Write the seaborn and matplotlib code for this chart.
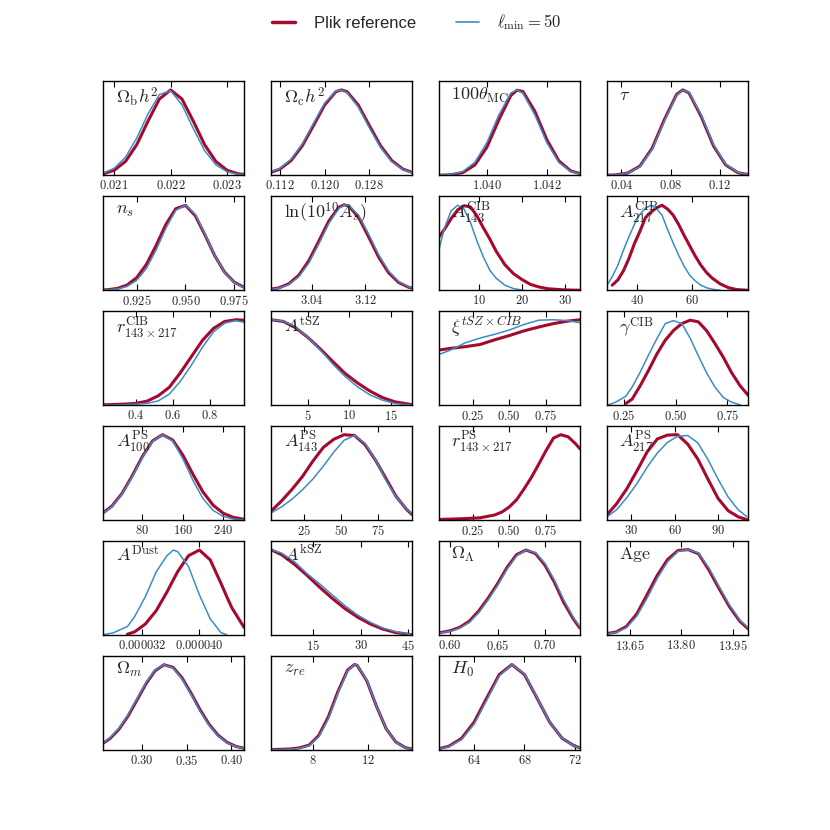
import numpy as np
import matplotlib
matplotlib.use("Agg")
import matplotlib.pyplot as plt
import seaborn as sns
from matplotlib.lines import Line2D

nan = np.nan

# 1D marginals, peak normalised to 1
ombh2_x = [0.0208, 0.0210, 0.0212, 0.0214, 0.0216, 0.0218, 0.0220, 0.0222, 0.0224, 0.0226, 0.0228, 0.0230, 0.0232, 0.0234]
ombh2_plik = [0.017, 0.059, 0.163, 0.360, 0.636, 0.893, 1.0, 0.893, 0.636, 0.360, 0.163, 0.059, 0.017, 0.004]
ombh2_l50 = [0.025, 0.082, 0.212, 0.437, 0.720, 0.946, 0.990, 0.826, 0.549, 0.291, 0.123, 0.041, 0.011, 0.002]
ombh2_ticks = ["0.021", "0.022", "0.023"]

omch2_x = [0.110, 0.112, 0.114, 0.116, 0.118, 0.120, 0.122, 0.123, 0.124, 0.126, 0.128, 0.130, 0.132, 0.134, 0.136]
omch2_plik = [0.026, 0.072, 0.172, 0.345, 0.581, 0.823, 0.979, 1.0, 0.979, 0.823, 0.581, 0.345, 0.172, 0.072, 0.026]
omch2_l50 = [0.029, 0.080, 0.186, 0.366, 0.607, 0.844, 0.986, 0.999, 0.969, 0.801, 0.556, 0.325, 0.159, 0.066, 0.023]
omch2_ticks = ["0.112", "0.120", "0.128"]

theta_x = [1.0384, 1.0388, 1.0392, 1.0396, 1.0400, 1.0404, 1.0408, 1.0410, 1.0412, 1.0416, 1.0420, 1.0424, 1.0428, 1.0432]
theta_plik = [0.001, 0.006, 0.032, 0.121, 0.328, 0.649, 0.935, 0.996, 0.981, 0.749, 0.416, 0.168, 0.050, 0.011]
theta_l50 = [0.002, 0.009, 0.044, 0.151, 0.381, 0.707, 0.962, 1.0, 0.962, 0.707, 0.381, 0.151, 0.044, 0.009]
theta_ticks = ["1.040", "1.042"]

tau_x = [0.025, 0.035, 0.045, 0.055, 0.065, 0.075, 0.085, 0.090, 0.095, 0.105, 0.115, 0.125, 0.135, 0.145]
tau_plik = [0.0005, 0.004, 0.026, 0.107, 0.316, 0.653, 0.948, 1.0, 0.965, 0.689, 0.345, 0.121, 0.030, 0.005]
tau_l50 = [0.0004, 0.004, 0.024, 0.101, 0.302, 0.636, 0.938, 0.998, 0.972, 0.707, 0.360, 0.129, 0.032, 0.006]
tau_ticks = ["0.04", "0.08", "0.12"]

ns_x = [0.905, 0.910, 0.915, 0.920, 0.925, 0.930, 0.935, 0.940, 0.945, 0.950, 0.955, 0.960, 0.965, 0.970, 0.975, 0.980]
ns_plik = [0.0015, 0.006, 0.021, 0.060, 0.147, 0.303, 0.527, 0.772, 0.954, 0.994, 0.873, 0.647, 0.404, 0.212, 0.094, 0.035]
ns_l50 = [0.001, 0.004, 0.014, 0.044, 0.116, 0.256, 0.474, 0.729, 0.935, 0.998, 0.888, 0.658, 0.406, 0.209, 0.090, 0.032]
ns_ticks = ["0.925", "0.950", "0.975"]

logA_x = [2.975, 2.990, 3.005, 3.020, 3.035, 3.050, 3.065, 3.080, 3.088, 3.095, 3.110, 3.125, 3.140, 3.155, 3.170, 3.185, 3.200]
logA_plik = [0.009, 0.028, 0.076, 0.176, 0.345, 0.574, 0.810, 0.971, 1.0, 0.987, 0.851, 0.623, 0.387, 0.204, 0.091, 0.035, 0.011]
logA_l50 = [0.007, 0.024, 0.067, 0.159, 0.318, 0.541, 0.781, 0.957, 0.997, 0.994, 0.876, 0.656, 0.416, 0.224, 0.102, 0.040, 0.013]
logA_ticks = ["3.04", "3.12"]

acib143_x = [0.6, 2, 3.5, 5, 6.5, 8, 9.5, 11, 12.5, 14, 16, 18, 20, 22, 24, 26, 30, 33.5]
acib143_plik = [0.62, 0.72, 0.84, 0.94, 0.99, 0.975, 0.87, 0.73, 0.60, 0.455, 0.30, 0.195, 0.125, 0.068, 0.038, 0.018, 0.004, 0.0]
acib143_l50 = [0.47, 0.74, 0.93, 0.995, 0.95, 0.79, 0.575, 0.39, 0.234, 0.14, 0.06, 0.02, 0.003, nan, nan, nan, nan, nan]
acib143_ticks = ["10", "20", "30"]

acib217_x = [29.5, 31, 33, 35, 37, 39, 41, 43, 45, 47, 49, 51, 53, 55, 57, 59, 61, 63, 65, 67, 70, 73, 76, 80]
acib217_plik = [nan, 0.06, 0.12, 0.225, 0.37, 0.545, 0.69, 0.85, 0.915, 0.965, 0.995, 0.95, 0.88, 0.77, 0.64, 0.52,
                0.40, 0.295, 0.21, 0.145, 0.075, 0.03, 0.008, 0.0]
acib217_l50 = [0.078, 0.16, 0.29, 0.465, 0.625, 0.77, 0.89, 0.96, 0.995, 0.955, 0.88, 0.71, 0.555, 0.41, 0.28, 0.175,
               0.11, 0.06, 0.03, 0.013, 0.0, nan, nan, nan]
acib217_ticks = ["40", "60"]

rcib_x = [0.22, 0.28, 0.34, 0.40, 0.46, 0.52, 0.58, 0.64, 0.70, 0.76, 0.82, 0.88, 0.94, 0.985]
rcib_plik = [0.005, 0.008, 0.013, 0.022, 0.048, 0.11, 0.21, 0.38, 0.57, 0.76, 0.90, 0.98, 1.0, 0.995]
rcib_l50 = [0.0, 0.002, 0.006, 0.012, 0.022, 0.05, 0.13, 0.28, 0.47, 0.68, 0.86, 0.96, 0.99, 0.97]
rcib_ticks = ["0.4", "0.6", "0.8"]

atsz_x = [0.5, 2, 3.5, 5, 6.5, 8, 9.5, 11, 12.5, 14, 15.5, 17.6]
atsz_plik = [1.0, 0.98, 0.905, 0.79, 0.655, 0.51, 0.37, 0.26, 0.165, 0.09, 0.04, 0.006]
atsz_l50 = [1.0, 0.985, 0.915, 0.79, 0.645, 0.48, 0.335, 0.215, 0.12, 0.06, 0.02, 0.0]
atsz_ticks = ["5", "10", "15"]

xi_x = [0.02, 0.1, 0.2, 0.3, 0.4, 0.5, 0.6, 0.7, 0.8, 0.9, 0.98]
xi_plik = [0.645, 0.665, 0.685, 0.71, 0.765, 0.815, 0.87, 0.915, 0.955, 0.985, 1.0]
xi_l50 = [0.593, 0.645, 0.73, 0.785, 0.83, 0.88, 0.945, 0.995, 1.0, 0.99, 0.965]
xi_ticks = ["0.25", "0.50", "0.75"]

gamma_x = [0.17, 0.21, 0.26, 0.29, 0.33, 0.37, 0.41, 0.45, 0.49, 0.53, 0.57, 0.61, 0.65, 0.69, 0.73, 0.77, 0.81, 0.85]
gamma_plik = [nan, nan, 0.02, 0.07, 0.23, 0.41, 0.60, 0.76, 0.875, 0.955, 0.995, 0.975, 0.87, 0.72, 0.56, 0.38, 0.23, 0.115]
gamma_l50 = [0.0, 0.033, 0.105, 0.21, 0.39, 0.59, 0.78, 0.955, 0.99, 0.955, 0.785, 0.575, 0.375, 0.21, 0.09, 0.035, 0.005, nan]
gamma_ticks = ["0.25", "0.50", "0.75"]

aps100_x = [0, 20, 40, 60, 80, 100, 120, 140, 160, 180, 200, 220, 240, 260, 280]
aps100_plik = [0.074, 0.163, 0.311, 0.516, 0.741, 0.925, 1.0, 0.938, 0.763, 0.538, 0.329, 0.175, 0.080, 0.032, 0.011]
aps100_l50 = [0.071, 0.157, 0.302, 0.505, 0.730, 0.918, 0.999, 0.929, 0.721, 0.467, 0.252, 0.114, 0.043, 0.013, 0.004]
aps100_ticks = ["80", "160", "240"]

aps143_x = [3, 10, 17, 24, 31, 38, 45, 52, 59, 66, 73, 80, 87, 94, 97.6]
aps143_plik = [0.105, 0.225, 0.36, 0.51, 0.69, 0.85, 0.945, 1.0, 0.99, 0.885, 0.705, 0.49, 0.275, 0.125, 0.065]
aps143_l50 = [0.085, 0.155, 0.245, 0.355, 0.48, 0.63, 0.795, 0.935, 0.99, 0.9, 0.71, 0.47, 0.27, 0.13, 0.072]
aps143_ticks = ["25", "50", "75"]

rps_x = [0.02, 0.1, 0.2, 0.3, 0.4, 0.45, 0.5, 0.55, 0.6, 0.65, 0.7, 0.75, 0.8, 0.85, 0.9, 0.95, 0.98]
rps_plik = [0.008, 0.012, 0.018, 0.027, 0.06, 0.095, 0.155, 0.24, 0.365, 0.50, 0.655, 0.815, 0.96, 1.0, 0.975, 0.895, 0.835]
rps_ticks = ["0.25", "0.50", "0.75"]

aps217_x = [13, 20, 27, 34, 41, 48, 55, 62, 69, 76, 83, 90, 97, 104, 110]
aps217_plik = [0.058, 0.195, 0.37, 0.58, 0.80, 0.95, 0.995, 1.0, 0.89, 0.715, 0.48, 0.255, 0.11, 0.038, 0.006]
aps217_l50 = [0.035, 0.125, 0.265, 0.43, 0.62, 0.785, 0.91, 0.98, 0.99, 0.905, 0.71, 0.48, 0.27, 0.12, 0.04]
aps217_ticks = ["30", "60", "90"]

dust_x = [2.66e-5, 2.8e-5, 3.0e-5, 3.1e-5, 3.25e-5, 3.4e-5, 3.55e-5, 3.64e-5, 3.7e-5, 3.85e-5, 4.0e-5, 4.15e-5,
          4.3e-5, 4.38e-5, 4.45e-5, 4.62e-5]
dust_plik = [nan, nan, 0.01, 0.037, 0.13, 0.285, 0.505, 0.65, 0.745, 0.93, 0.995, 0.88, 0.605, 0.45, 0.32, 0.09]
dust_l50 = [0.004, 0.025, 0.10, 0.215, 0.45, 0.74, 0.93, 0.995, 0.975, 0.80, 0.47, 0.19, 0.028, 0.004, nan, nan]
dust_ticks = ["0.000032", "0.000040"]

aksz_x = [1.6, 5, 9, 13, 17, 21, 25, 29, 33, 37, 41, 46.2]
aksz_plik = [1.0, 0.94, 0.83, 0.70, 0.56, 0.43, 0.31, 0.21, 0.13, 0.07, 0.03, 0.004]
aksz_l50 = [1.0, 0.96, 0.86, 0.72, 0.60, 0.47, 0.345, 0.235, 0.15, 0.083, 0.04, 0.004]
aksz_ticks = ["15", "30", "45"]

omL_x = [0.588, 0.60, 0.61, 0.62, 0.63, 0.64, 0.65, 0.66, 0.67, 0.68, 0.69, 0.70, 0.71, 0.72, 0.73, 0.737]
omL_plik = [0.025, 0.05, 0.09, 0.16, 0.28, 0.43, 0.60, 0.79, 0.94, 0.995, 0.955, 0.82, 0.62, 0.38, 0.19, 0.08]
omL_l50 = [0.022, 0.044, 0.08, 0.145, 0.26, 0.41, 0.58, 0.77, 0.925, 0.995, 0.965, 0.84, 0.645, 0.41, 0.21, 0.095]
omL_ticks = ["0.60", "0.65", "0.70"]

age_x = [13.58, 13.61, 13.64, 13.67, 13.70, 13.73, 13.76, 13.79, 13.82, 13.85, 13.88, 13.91, 13.94, 13.97, 13.995]
age_plik = [0.015, 0.035, 0.10, 0.245, 0.47, 0.70, 0.885, 0.99, 1.0, 0.95, 0.76, 0.54, 0.33, 0.16, 0.07]
age_l50 = [0.012, 0.03, 0.085, 0.22, 0.43, 0.665, 0.86, 0.98, 1.0, 0.96, 0.785, 0.565, 0.35, 0.175, 0.08]
age_ticks = ["13.65", "13.80", "13.95"]

omm_x = [0.257, 0.265, 0.275, 0.285, 0.295, 0.305, 0.315, 0.325, 0.335, 0.345, 0.355, 0.365, 0.375, 0.385, 0.395,
         0.405, 0.414]
omm_plik = [0.078, 0.135, 0.245, 0.399, 0.587, 0.777, 0.928, 0.998, 0.967, 0.845, 0.665, 0.472, 0.302, 0.174, 0.090,
            0.042, 0.020]
omm_l50 = [0.083, 0.143, 0.256, 0.414, 0.603, 0.791, 0.937, 0.999, 0.960, 0.832, 0.650, 0.457, 0.290, 0.165, 0.085,
           0.040, 0.018]
omm_ticks = ["0.30", "0.35", "0.40"]

zre_x = [4.9, 5.6, 6.3, 7.0, 7.7, 8.4, 9.1, 9.8, 10.5, 11.0, 11.2, 11.9, 12.6, 13.3, 14.0, 14.7, 15.2]
zre_plik = [0.004, 0.008, 0.012, 0.025, 0.057, 0.169, 0.388, 0.685, 0.936, 1.0, 0.990, 0.808, 0.511, 0.249, 0.094,
            0.028, 0.010]
zre_l50 = [0.002, 0.005, 0.009, 0.02, 0.050, 0.154, 0.365, 0.664, 0.927, 1.0, 0.992, 0.815, 0.514, 0.248, 0.092,
           0.026, 0.009]
zre_ticks = ["8", "12"]

h0_x = [61.2, 62, 63, 64, 65, 66, 67, 68, 69, 70, 71, 72, 72.4]
h0_plik = [0.015, 0.044, 0.135, 0.325, 0.607, 0.883, 1.0, 0.883, 0.607, 0.325, 0.135, 0.044, 0.026]
h0_l50 = [0.012, 0.038, 0.121, 0.302, 0.582, 0.868, 1.0, 0.890, 0.613, 0.326, 0.134, 0.043, 0.025]
h0_ticks = ["64", "68", "72"]

panels = [
    (r"$\Omega_{\rm b}h^2$", ombh2_x, ombh2_plik, ombh2_l50, (0.0208, 0.0233), ombh2_ticks),
    (r"$\Omega_{\rm c}h^2$", omch2_x, omch2_plik, omch2_l50, (0.1104, 0.1356), omch2_ticks),
    (r"$100\theta_{\rm MC}$", theta_x, theta_plik, theta_l50, (1.0384, 1.0431), theta_ticks),
    (r"$\tau$", tau_x, tau_plik, tau_l50, (0.028, 0.143), tau_ticks),
    (r"$n_s$", ns_x, ns_plik, ns_l50, (0.9077, 0.980), ns_ticks),
    (r"${\rm ln}(10^{10} A_s)$", logA_x, logA_plik, logA_l50, (2.978, 3.190), logA_ticks),
    (r"$A^{\rm CIB}_{143}$", acib143_x, acib143_plik, acib143_l50, (0.6, 33.5), acib143_ticks),
    (r"$A^{\rm CIB}_{217}$", acib217_x, acib217_plik, acib217_l50, (29, 80), acib217_ticks),
    (r"$r^{\rm CIB}_{143\times217}$", rcib_x, rcib_plik, rcib_l50, (0.22, 0.985), rcib_ticks),
    (r"$A^{\rm tSZ}$", atsz_x, atsz_plik, atsz_l50, (0.47, 17.6), atsz_ticks),
    (r"$\xi^{tSZ\times CIB}$", xi_x, xi_plik, xi_l50, (0.02, 0.98), xi_ticks),
    (r"$\gamma^{\rm CIB}$", gamma_x, gamma_plik, gamma_l50, (0.168, 0.848), gamma_ticks),
    (r"$A^{\rm PS}_{100}$", aps100_x, aps100_plik, aps100_l50, (2.4, 281), aps100_ticks),
    (r"$A^{\rm PS}_{143}$", aps143_x, aps143_plik, aps143_l50, (2.8, 97.6), aps143_ticks),
    (r"$r^{\rm PS}_{143\times217}$", rps_x, rps_plik, None, (0.02, 0.98), rps_ticks),
    (r"$A^{\rm PS}_{217}$", aps217_x, aps217_plik, aps217_l50, (13, 110.6), aps217_ticks),
    (r"$A^{\rm Dust}$", dust_x, dust_plik, dust_l50, (2.66e-5, 4.62e-5), dust_ticks),
    (r"$A^{\rm kSZ}$", aksz_x, aksz_plik, aksz_l50, (1.6, 46.2), aksz_ticks),
    (r"$\Omega_\Lambda$", omL_x, omL_plik, omL_l50, (0.588, 0.737), omL_ticks),
    (r"${\rm Age}$", age_x, age_plik, age_l50, (13.583, 13.993), age_ticks),
    (r"$\Omega_m$", omm_x, omm_plik, omm_l50, (0.257, 0.414), omm_ticks),
    (r"$z_{re}$", zre_x, zre_plik, zre_l50, (4.92, 15.18), zre_ticks),
    (r"$H_0$", h0_x, h0_plik, h0_l50, (61.2, 72.4), h0_ticks),
]

RED = "#a50a2e"
BLUE = "#3b8dc4"

sns.set_style("white")
plt.rcParams["font.family"] = ["DejaVu Sans"]
plt.rcParams["mathtext.fontset"] = "cm"

fig, axes = plt.subplots(6, 4, figsize=(8.3, 8.3), dpi=100)
fig.subplots_adjust(left=0.124, right=0.901, top=0.902, bottom=0.0964, wspace=0.19, hspace=0.223)

for ax, (label, x, plik, l50, xlim, ticks) in zip(axes.flat, panels):
    sns.lineplot(x=x, y=plik, ax=ax, color=RED, lw=2.2, estimator=None, sort=False)
    if l50 is not None:
        sns.lineplot(x=x, y=l50, ax=ax, color=BLUE, lw=1.1, estimator=None, sort=False)
    ax.set_xlim(xlim)
    ax.set_ylim(0, 1.1)
    ax.set_xticks([float(t) for t in ticks])
    ax.set_xticklabels([f"${t}$" for t in ticks], fontsize=9)
    ax.set_yticks([])
    ax.set_xlabel("")
    ax.set_ylabel("")
    ax.tick_params(axis="x", direction="in", top=True, bottom=True, length=4, width=0.8, pad=3, color="black")
    for sp in ax.spines.values():
        sp.set_color("black")
        sp.set_linewidth(1.0)
    ax.text(0.09, 0.955, label, transform=ax.transAxes, ha="left", va="top", fontsize=13)

axes.flat[-1].axis("off")

handles = [Line2D([], [], color=RED, lw=2.5), Line2D([], [], color=BLUE, lw=1.2)]
fig.legend(handles, ["Plik reference", r"$\ell_{\rm min}=50$"], loc="upper center",
           bbox_to_anchor=(0.502, 1.003), ncol=2, frameon=False, handlelength=1.4,
           handletextpad=1.1, columnspacing=2.4, prop={"family": "Liberation Sans", "size": 12})

fig.savefig("out.png", dpi=100)
